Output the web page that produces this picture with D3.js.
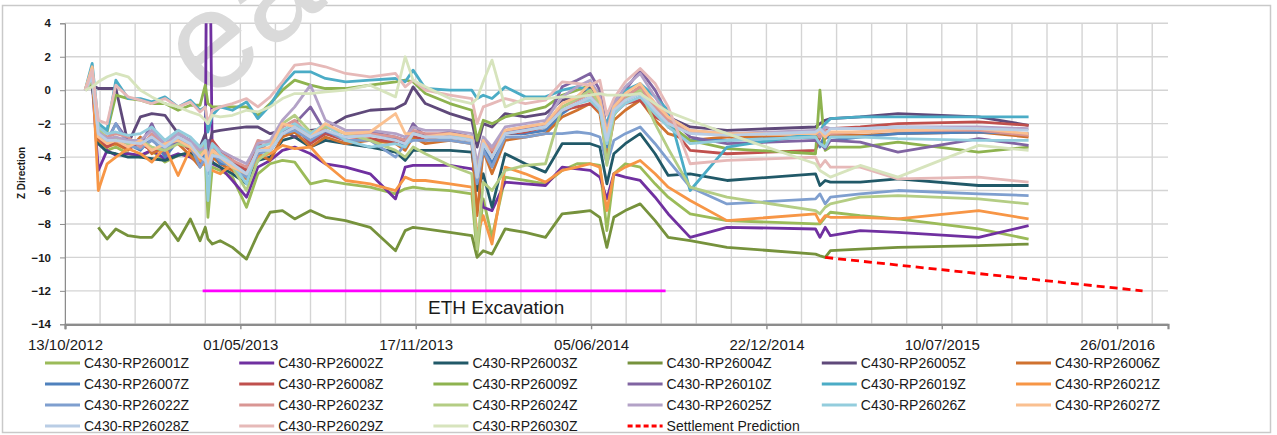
<!DOCTYPE html>
<html>
<head>
<meta charset="utf-8">
<script src="https://cdn.jsdelivr.net/npm/d3@7"></script>
<style>
  body { margin: 0; background: #fff; }
  svg { display: block; }
  text { font-family: "Liberation Sans", Arial, sans-serif; }
</style>
</head>
<body>
<svg width="1277" height="435"></svg>
<script>
// survey dates shared by all monitoring points
const dates = [
  "2012-11-05","2012-11-13","2012-11-20","2012-11-30","2012-12-10","2012-12-24","2013-01-07","2013-01-20","2013-02-04","2013-02-19",
  "2013-03-05","2013-03-16","2013-03-22","2013-03-25","2013-03-30","2013-04-08","2013-04-22","2013-05-08","2013-05-21","2013-06-04",
  "2013-06-18","2013-07-02","2013-07-20","2013-08-06","2013-08-29","2013-09-26","2013-10-25","2013-11-05","2013-11-14","2013-11-28",
  "2013-12-26","2014-01-20","2014-01-26","2014-02-02","2014-02-12","2014-02-27","2014-03-22","2014-04-14","2014-05-03","2014-05-20",
  "2014-06-04","2014-06-15","2014-06-23","2014-07-01","2014-07-14","2014-07-31","2014-08-17","2014-09-01","2014-09-26","2014-11-07",
  "2015-02-16","2015-02-21","2015-02-27","2015-03-05","2015-04-08","2015-05-21","2015-08-21","2015-10-17"
];

// Z movement per point
const rp26001 = [0,0.4,-3.0,-3.6,-3.4,-3.8,-4.0,-3.6,-4.3,-3.9, -3.8,-4.4,-4.0,-7.6,-4.6,-4.8,-5.2,-7.0,-5.0,-4.4, -4.2,-4.3,-5.6,-5.4,-5.6,-5.8,-6.2,-5.9,-5.8,-5.9, -6.0,-6.2,-9.8,-6.5,-8.8,-5.2,-5.4,-5.6,-4.8,-4.4, -4.4,-4.5,-8.4,-5.0,-4.4,-4.6,-5.6,-6.4,-7.4,-7.8, -8.0,-8.0,-7.6,-7.3,-7.5,-7.7,-8.3,-8.9];
const rp26002 = [0,0.5,-4.8,-3.6,-3.9,-3.8,-3.9,-3.6,-4.1,-3.8, -4.0,-4.4,-3.8,20.0,-4.4,-4.6,-5.4,-6.4,-4.6,-4.2, -3.6,-3.4,-3.8,-4.4,-4.6,-5.0,-6.5,-4.6,-4.5,-4.5, -4.5,-4.7,-5.0,-7.0,-7.2,-5.5,-5.6,-5.7,-4.6,-4.7, -4.8,-5.2,-6.5,-5.0,-5.2,-5.4,-6.4,-7.4,-8.8,-8.2, -8.3,-8.8,-8.2,-8.7,-8.4,-8.5,-8.8,-8.1];
const rp26003 = [0,0.4,-3.2,-3.7,-3.8,-4.0,-4.0,-4.1,-4.2,-3.9, -3.7,-4.2,-4.0,-4.6,-4.3,-4.6,-5.0,-5.6,-4.2,-4.0, -3.0,-2.8,-3.4,-3.0,-3.2,-3.4,-3.7,-4.2,-3.6,-3.6, -3.6,-3.7,-6.0,-5.0,-7.0,-3.8,-4.4,-4.9,-3.2,-3.2, -3.2,-3.4,-5.6,-3.8,-3.2,-2.6,-3.8,-5.1,-5.0,-5.4, -5.0,-5.7,-5.4,-5.5,-5.5,-5.3,-5.7,-5.7];
const rp26004 = [null,null,-8.2,-8.9,-8.3,-8.7,-8.8,-8.8,-7.9,-9.0, -7.7,-9.0,-8.2,-8.9,-9.2,-9.0,-9.4,-10.1,-8.6,-7.3, -7.2,-7.7,-7.2,-7.6,-7.8,-8.2,-9.6,-8.4,-8.2,-8.3, -8.5,-8.7,-10.0,-9.6,-9.8,-8.3,-8.5,-8.8,-7.4,-7.3, -7.2,-7.6,-9.4,-7.6,-7.2,-6.8,-7.8,-8.8,-9.0,-9.4, -9.8,-9.9,-10.0,-9.6,-9.5,-9.4,-9.3,-9.2];
const rp26005 = [0,0.3,0.1,0.1,0.1,-3.2,-1.6,-1.4,-1.5,-2.6, -3.0,-3.4,-2.6,-3.6,-2.5,-2.4,-2.3,-2.2,-2.2,-2.6, -2.4,-2.8,-2.4,-2.3,-1.6,-1.2,-1.1,-0.8,0.2,-0.8, -1.4,-1.8,-3.4,-2.0,-2.2,-1.4,-1.6,-1.4,-0.6,-0.4, 0.2,-0.6,-2.2,-1.0,-0.4,0.2,-0.8,-1.6,-2.2,-2.4, -2.2,-2.0,-1.8,-1.7,-1.6,-1.4,-1.6,-2.1];
const rp26006 = [0,1.2,-3.0,-3.4,-3.2,-3.6,-2.8,-3.8,-3.4,-3.2, -3.9,-4.6,-4.2,-5.0,-4.0,-4.4,-4.8,-5.3,-3.8,-4.2, -2.8,-2.5,-3.4,-2.8,-3.2,-3.0,-3.2,-3.6,-2.8,-3.2, -3.0,-3.2,-7.5,-3.6,-5.0,-3.0,-2.8,-2.6,-1.6,-1.2, -0.8,-1.4,-4.0,-1.8,-1.2,-0.6,-1.8,-2.6,-3.0,-2.8, -2.8,-3.2,-2.9,-2.7,-2.7,-2.6,-2.5,-2.8];
const rp26007 = [0,1.0,-2.6,-3.0,-2.9,-3.2,-3.6,-2.8,-4.0,-3.0, -3.4,-4.2,-3.8,-4.8,-3.6,-4.4,-4.4,-4.8,-3.4,-3.6, -2.6,-2.0,-3.0,-2.6,-2.8,-2.6,-2.9,-3.4,-2.5,-2.8, -2.8,-3.0,-5.2,-3.2,-4.4,-2.6,-2.6,-2.4,-1.4,-0.8, -0.4,-1.0,-3.4,-1.4,-0.6,-0.2,-1.2,-2.2,-3.0,-3.0, -2.8,-3.4,-2.6,-3.0,-2.8,-2.6,-2.5,-2.6];
const rp26008 = [0,0.9,-2.8,-3.4,-3.0,-3.5,-3.2,-3.6,-3.4,-3.0, -3.6,-4.0,-3.2,-4.2,-3.0,-3.6,-4.2,-4.8,-3.2,-3.6, -2.4,-2.2,-3.2,-2.6,-3.0,-2.9,-3.1,-3.0,-2.7,-3.0, -2.6,-2.8,-4.8,-3.0,-3.8,-2.6,-2.5,-2.2,-1.2,-1.0, -0.8,-1.2,-3.0,-1.4,-0.8,-0.6,-1.6,-2.0,-3.6,-3.8, -3.6,-2.8,-2.4,-2.3,-2.2,-2.0,-1.9,-2.1];
const rp26009 = [0,0.5,-2.0,-2.5,-0.3,-0.5,-0.6,-0.8,-0.8,-1.2, -0.9,-0.9,0.3,-0.8,-1.0,-1.0,-1.0,-1.0,-1.5,-0.8, 0.0,0.6,0.3,0.1,0.1,0.3,0.5,0.6,0.5,-0.2, -0.8,-1.2,-3.0,-1.8,-2.0,-1.6,-1.3,-1.0,-0.3,0.0, 0.3,-0.2,-2.5,-1.5,-0.5,0.0,-1.0,-2.0,-3.0,-3.5, -3.8,0.0,-3.6,-3.4,-3.4,-3.1,-3.7,-3.4];
const rp26010 = [0,0.8,-2.4,-3.0,-2.0,-3.0,-3.3,-2.0,-3.8,-3.0, -3.2,-4.0,-4.2,-3.0,-4.0,-3.8,-4.5,-5.0,-3.5,-3.5, -2.5,-2.0,-1.0,-2.5,-2.8,-2.5,-2.8,-3.0,-2.0,-2.8, -2.5,-2.8,-5.0,-3.0,-3.5,-2.5,-2.3,-2.0,0.2,0.6, 1.0,0.0,-2.5,-1.0,0.0,1.2,0.0,-1.5,-2.8,-3.2, -3.0,-3.2,-3.5,-3.0,-3.1,-3.7,-2.9,-3.3];
const rp26019 = [0,1.6,-2.0,-2.4,0.6,-0.5,-0.5,-0.7,-0.4,-1.0, -0.6,-1.2,-1.0,-2.5,-1.5,-1.0,-1.2,-0.7,-1.7,-0.9, 0.3,1.1,1.1,0.7,0.5,0.6,0.7,0.5,1.2,0.1, 0.0,0.0,-0.5,-0.3,-0.5,0.2,-0.4,-0.4,0.0,0.2, 0.0,-1.2,-2.0,-0.6,0.0,0.4,-0.4,-1.2,-6.0,-3.4, -2.6,-2.4,-2.0,-1.7,-1.6,-1.6,-1.6,-1.6];
const rp26021 = [0,1.3,-6.0,-4.4,-4.0,-3.5,-3.8,-4.3,-3.4,-5.1, -3.5,-4.2,-4.5,-4.6,-4.8,-5.0,-4.4,-5.2,-4.0,-3.8, -3.3,-3.5,-3.4,-4.4,-5.4,-5.6,-6.0,-5.2,-5.4,-5.4, -5.6,-5.8,-8.6,-7.5,-9.2,-4.6,-5.0,-5.5,-4.8,-4.6, -4.4,-4.6,-7.2,-5.0,-4.6,-4.2,-5.0,-5.8,-6.6,-7.8, -7.4,-7.9,-7.5,-7.6,-7.6,-7.7,-7.2,-7.7];
const rp26022 = [0,1.1,-2.7,-3.1,-2.0,-3.3,-3.5,-3.0,-3.6,-2.8, -3.3,-4.6,-4.0,-5.0,-3.8,-4.2,-4.6,-5.2,-3.8,-3.6, -2.6,-2.4,-3.0,-2.4,-3.0,-3.0,-4.0,-3.2,-3.0,-3.0, -3.0,-3.2,-5.6,-3.6,-4.6,-2.8,-2.8,-2.6,-2.6,-2.5, -2.6,-2.8,-4.4,-3.0,-2.6,-2.2,-3.2,-4.2,-5.8,-6.8, -6.5,-6.2,-6.8,-6.4,-6.2,-6.0,-6.2,-6.3];
const rp26023 = [0,1.0,-2.4,-2.8,-2.6,-2.8,-3.4,-2.6,-3.4,-2.4, -3.2,-3.8,-3.6,-4.2,-3.4,-3.8,-4.2,-4.6,-3.0,-3.2, -2.2,-1.8,-2.8,-2.2,-2.6,-2.6,-2.8,-3.0,-2.4,-2.6, -2.6,-2.8,-4.6,-3.0,-3.6,-2.4,-2.2,-2.0,-1.0,-0.6, -0.2,-0.8,-2.8,-1.2,-0.4,0.2,-1.0,-1.8,-2.6,-2.6, -2.5,-2.8,-2.4,-2.6,-2.5,-2.4,-2.4,-2.7];
const rp26024 = [0,0.6,-2.2,-3.0,-2.8,-3.2,-3.0,-3.4,-3.6,-3.2, -3.4,-3.8,-3.2,-4.5,-3.8,-4.0,-4.6,-6.0,-4.2,-3.6, -2.0,-1.5,-2.5,-2.2,-2.6,-3.0,-3.6,-4.0,-3.4,-3.8, -4.5,-5.0,-9.5,-5.5,-6.0,-4.8,-4.5,-4.4,-1.0,-0.5, 0.0,-0.8,-4.5,-1.5,-0.6,0.0,-2.0,-3.5,-5.8,-6.4, -7.2,-7.4,-7.0,-6.8,-6.4,-6.3,-6.5,-6.8];
const rp26025 = [0,0.9,-2.5,-2.9,-2.8,-3.0,-3.0,-2.4,-3.2,-2.6, -3.0,-3.6,-3.4,-4.0,-3.2,-3.6,-4.0,-4.4,-3.2,-3.0, -1.8,-1.0,0.3,-1.8,-2.4,-2.4,-2.6,-2.8,-2.2,-2.4, -2.4,-2.6,-4.4,-2.8,-3.4,-2.2,-2.0,-1.8,-0.4,0.2, 0.6,-0.4,-2.4,-0.8,0.2,1.0,-0.4,-1.6,-2.4,-2.6, -2.4,-2.6,-2.2,-2.3,-2.3,-2.2,-2.2,-2.3];
const rp26026 = [0,1.2,-2.2,-2.6,-2.5,-2.7,-2.6,-2.2,-3.0,-2.4, -2.8,-3.4,-3.0,-6.6,-3.2,-3.8,-4.4,-5.6,-3.4,-3.2, -2.4,-2.0,-2.6,-2.0,-3.0,-3.4,-3.2,-3.4,-2.6,-2.8, -2.8,-2.8,-5.0,-3.2,-4.0,-2.6,-2.4,-2.2,-1.2,-0.8, -0.6,-1.2,-3.2,-1.4,-0.8,-0.4,-1.4,-2.2,-3.2,-3.0, -2.8,-3.2,-3.4,-2.8,-2.8,-2.9,-3.0,-3.0];
const rp26027 = [0,1.4,-2.8,-3.2,-3.0,-3.4,-3.0,-3.6,-3.2,-3.0, -3.4,-4.0,-3.6,-4.4,-3.6,-4.0,-4.6,-5.0,-3.6,-3.4, -2.0,-2.2,-2.8,-2.0,-2.6,-2.5,-1.4,-2.6,-2.6,-2.8, -2.6,-2.8,-5.2,-3.0,-4.0,-2.4,-2.2,-2.0,-0.8,-0.4, 0.4,-0.6,-2.6,-1.0,-0.2,0.4,-0.8,-1.6,-2.4,-2.6, -2.6,-2.4,-2.8,-2.5,-2.5,-2.4,-2.3,-2.6];
const rp26028 = [0,0.8,-2.6,-3.0,-3.0,-3.1,-3.2,-2.8,-3.4,-2.8, -3.2,-4.0,-4.2,-4.8,-3.9,-4.0,-4.4,-5.0,-3.6,-3.6, -2.6,-2.2,-2.8,-2.4,-2.8,-2.7,-3.0,-3.2,-2.6,-2.8, -2.8,-3.0,-5.2,-3.2,-4.0,-2.6,-2.4,-2.2,-1.2,-0.8, -0.4,-1.0,-3.0,-1.2,-0.6,-0.2,-1.2,-2.0,-2.6,-2.7, -2.5,-2.3,-2.6,-2.3,-2.3,-2.2,-2.3,-2.4];
const rp26029 = [0,1.2,-1.8,-2.0,0.3,-0.4,-0.6,-0.8,-0.5,-1.0, -0.7,-1.3,-1.0,-2.0,-1.2,-1.0,-0.8,-0.5,-1.0,-0.4, 0.5,1.5,1.6,1.4,1.0,0.8,1.0,0.2,0.6,0.0, -0.3,-0.5,-2.0,-1.0,-0.8,-0.5,-0.8,-0.6,0.5,0.4, 0.3,0.6,-1.5,-0.5,0.5,1.3,0.4,-1.0,-4.4,-4.2, -4.0,-4.6,-4.2,-4.6,-4.6,-5.3,-5.2,-5.5];
const rp26030 = [0,0.2,0.5,0.8,1.0,0.8,0.0,-0.4,-0.8,-1.0, -1.3,-1.5,-1.8,-2.0,-1.5,-1.6,-1.5,-1.2,-1.3,-1.0, -0.5,-0.2,-0.2,-0.1,0.0,0.3,-0.4,2.0,0.6,0.2, -0.5,-0.8,-0.5,0.5,1.8,-1.0,-0.5,-0.5,-0.4,-0.4, -0.3,-0.2,-0.3,-0.3,-0.3,-0.2,-0.8,-1.3,-1.8,-2.6, -4.4,-4.8,-5.0,-5.2,-4.5,-5.2,-3.3,-3.6];

const predDates = ["2015-02-27", "2016-02-24"];
const predValues = [-10, -12];
const ethDates = ["2013-03-19", "2014-08-29"];
const ethValues = [-12, -12];

const seriesNames = ["C430-RP26001Z","C430-RP26002Z","C430-RP26003Z","C430-RP26004Z","C430-RP26005Z","C430-RP26006Z",
  "C430-RP26007Z","C430-RP26008Z","C430-RP26009Z","C430-RP26010Z","C430-RP26019Z","C430-RP26021Z",
  "C430-RP26022Z","C430-RP26023Z","C430-RP26024Z","C430-RP26025Z","C430-RP26026Z","C430-RP26027Z",
  "C430-RP26028Z","C430-RP26029Z","C430-RP26030Z"];
const seriesValues = [rp26001,rp26002,rp26003,rp26004,rp26005,rp26006,rp26007,rp26008,rp26009,rp26010,rp26019,rp26021,
  rp26022,rp26023,rp26024,rp26025,rp26026,rp26027,rp26028,rp26029,rp26030];
const colors = ["#9BBB59","#7030A0","#215968","#76923C","#5F497A","#D0722F",
  "#4F81BD","#C0504D","#8EB34F","#8064A2","#4BACC6","#F79646",
  "#7F9FCF","#D99694","#B4CD84","#B3A2C7","#93CDDD","#FAC090",
  "#B9CDE5","#E6B9B8","#D7E4BD"];

(function () {
  const parse = d3.utcParse("%Y-%m-%d");
  const svg = d3.select("svg");
  const plotLeft = 65, plotRight = 1168, plotTop = 23.3, plotBottom = 324.3;

  const start = parse("2012-10-13");
  const end = d3.utcDay.offset(start, 1258);
  const x = d3.scaleUtc().domain([start, end]).range([plotLeft, plotRight]);
  const y = d3.scaleLinear().domain([-14, 4]).range([plotBottom, plotTop]);

  // chart frame
  svg.append("rect").attr("x", 2.5).attr("y", 5.5).attr("width", 1268).attr("height", 427)
    .attr("fill", "#fff").attr("stroke", "#c9c9c9").attr("stroke-width", 1.5);

  // gridlines (every 40 days, every 2 units)
  const minorDays = d3.range(0, 1259, 40).map(d => d3.utcDay.offset(start, d));
  const majorDays = d3.range(0, 1259, 200).map(d => d3.utcDay.offset(start, d));
  const yTicks = d3.range(-14, 5, 2);

  const grid = svg.append("g").attr("stroke", "#d4d4d4").attr("stroke-width", 1.4);
  grid.selectAll(".gv").data(minorDays).join("line").attr("class", "gv")
    .attr("x1", d => x(d)).attr("x2", d => x(d)).attr("y1", plotTop).attr("y2", plotBottom);
  grid.selectAll(".gh").data(yTicks).join("line").attr("class", "gh")
    .attr("x1", plotLeft).attr("x2", plotRight).attr("y1", d => y(d)).attr("y2", d => y(d));

  // faint watermark, mostly off the top edge as in the source
  svg.append("text").text("ea")
    .attr("transform", "translate(209,103) rotate(-40)")
    .attr("font-size", 140).attr("fill", "#dadada");

  // axes
  const yAxis = svg.append("g").attr("transform", `translate(${plotLeft},0)`)
    .call(d3.axisLeft(y).tickValues(yTicks).tickSize(5).tickPadding(9));
  yAxis.select(".domain").attr("stroke", "#8c8c8c");
  yAxis.selectAll(".tick line").attr("stroke", "#8c8c8c");
  yAxis.selectAll("text").attr("font-size", 11.5).attr("font-weight", "bold").attr("fill", "#1a1a1a");

  const xAxis = svg.append("g").attr("transform", `translate(0,${plotBottom})`)
    .call(d3.axisBottom(x).tickValues(majorDays).tickSize(5).tickPadding(10)
      .tickFormat(d3.utcFormat("%d/%m/%Y")));
  xAxis.select(".domain").attr("stroke", "#8c8c8c").attr("stroke-width", 2.2);
  xAxis.selectAll(".tick line").attr("stroke", "#8c8c8c").attr("stroke-width", 1.4);
  xAxis.selectAll("text").attr("font-size", 15).attr("fill", "#1a1a1a");

  svg.append("text").text("Z Direction")
    .attr("transform", "translate(25,173) rotate(-90)")
    .attr("text-anchor", "middle").attr("font-size", 10).attr("font-weight", "bold").attr("fill", "#1a1a1a");

  // lines
  svg.append("clipPath").attr("id", "plot").append("rect")
    .attr("x", plotLeft).attr("y", plotTop).attr("width", plotRight - plotLeft).attr("height", plotBottom - plotTop);
  const plot = svg.append("g").attr("clip-path", "url(#plot)");

  const line = d3.line()
    .defined(d => d[1] != null)
    .x(d => x(parse(d[0])))
    .y(d => y(d[1]));

  seriesValues.forEach((vals, i) => {
    plot.append("path")
      .attr("d", line(dates.map((d, j) => [d, vals[j]])))
      .attr("fill", "none").attr("stroke", colors[i]).attr("stroke-width", 2.8)
      .attr("stroke-linejoin", "round");
  });

  plot.append("path")
    .attr("d", line(ethDates.map((d, j) => [d, ethValues[j]])))
    .attr("fill", "none").attr("stroke", "#FF00FF").attr("stroke-width", 2.8);

  plot.append("path")
    .attr("d", line(predDates.map((d, j) => [d, predValues[j]])))
    .attr("fill", "none").attr("stroke", "#FF0000").attr("stroke-width", 2.8)
    .attr("stroke-dasharray", "8,5");

  svg.append("text").text("ETH Excavation")
    .attr("x", 428).attr("y", 314).attr("font-size", 19).attr("fill", "#1a1a1a");

  // legend: 6 columns, row by row
  const legendItems = seriesNames.map((n, i) => ({ name: n, color: colors[i], dash: null }))
    .concat([{ name: "Settlement Prediction", color: "#FF0000", dash: "5,3" }]);
  const item = svg.append("g").selectAll("g").data(legendItems).join("g")
    .attr("transform", (d, i) => `translate(${45 + (i % 6) * 194.2},${363 + Math.floor(i / 6) * 21})`);
  item.append("line").attr("x1", 0).attr("x2", 35)
    .attr("stroke", d => d.color).attr("stroke-width", 3)
    .attr("stroke-dasharray", d => d.dash);
  item.append("text").text(d => d.name)
    .attr("x", 39).attr("dy", "0.35em").attr("font-size", 14).attr("fill", "#1a1a1a");
})();
</script>
</body>
</html>
